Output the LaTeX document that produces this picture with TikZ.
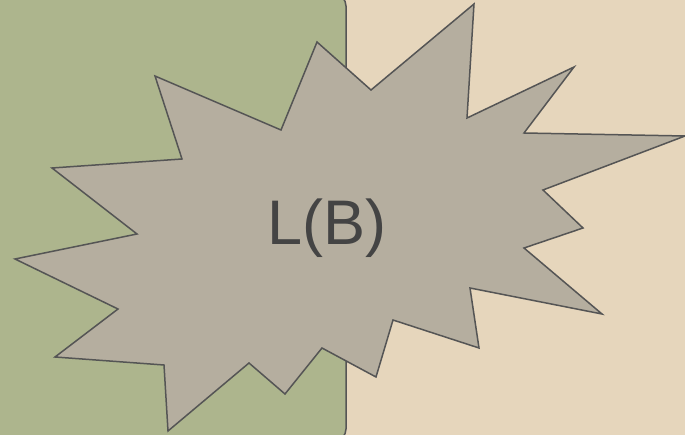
\documentclass[tikz,border=0pt]{standalone}
\usepackage{fontspec}
\setmainfont{Liberation Sans}
\definecolor{bgbeige}{RGB}{230,214,188}
\definecolor{panelgreen}{RGB}{173,181,141}
\definecolor{starfill}{RGB}{181,174,159}
\definecolor{edgegray}{RGB}{85,85,85}
\definecolor{textgray}{RGB}{68,68,68}
\tikzset{
  panel/.style={fill=panelgreen, draw=edgegray, line width=1.5pt, rounded corners=12pt},
  burst/.style={fill=starfill, draw=edgegray, line width=1.5pt, line join=miter},
  bigtext/.style={text=textgray, font=\fontsize{63}{70}\selectfont, inner sep=0pt}
}
\begin{document}
\begin{tikzpicture}[x=1pt,y=-1pt]
\useasboundingbox (0,0) rectangle (685,435);
\fill[bgbeige] (0,0) rectangle (685,435);
\draw[panel] (-30,-6) rectangle (346,441);
\draw[burst] (474,4) -- (467,118) -- (574,67) -- (524,133) -- (685,136) -- (543,190)
  -- (583,228) -- (524,248) -- (602,314) -- (470,288) -- (479,348) -- (393,320)
  -- (376,377) -- (322,348) -- (285,394) -- (249,363) -- (168,431) -- (164,365)
  -- (55,357) -- (118,309) -- (15,259) -- (137,234) -- (52,168) -- (182,159)
  -- (155,76) -- (281,130) -- (317,42) -- (371,90) -- cycle;
\node[bigtext] (label) at (327,228) {L(B)};
\end{tikzpicture}
\end{document}
